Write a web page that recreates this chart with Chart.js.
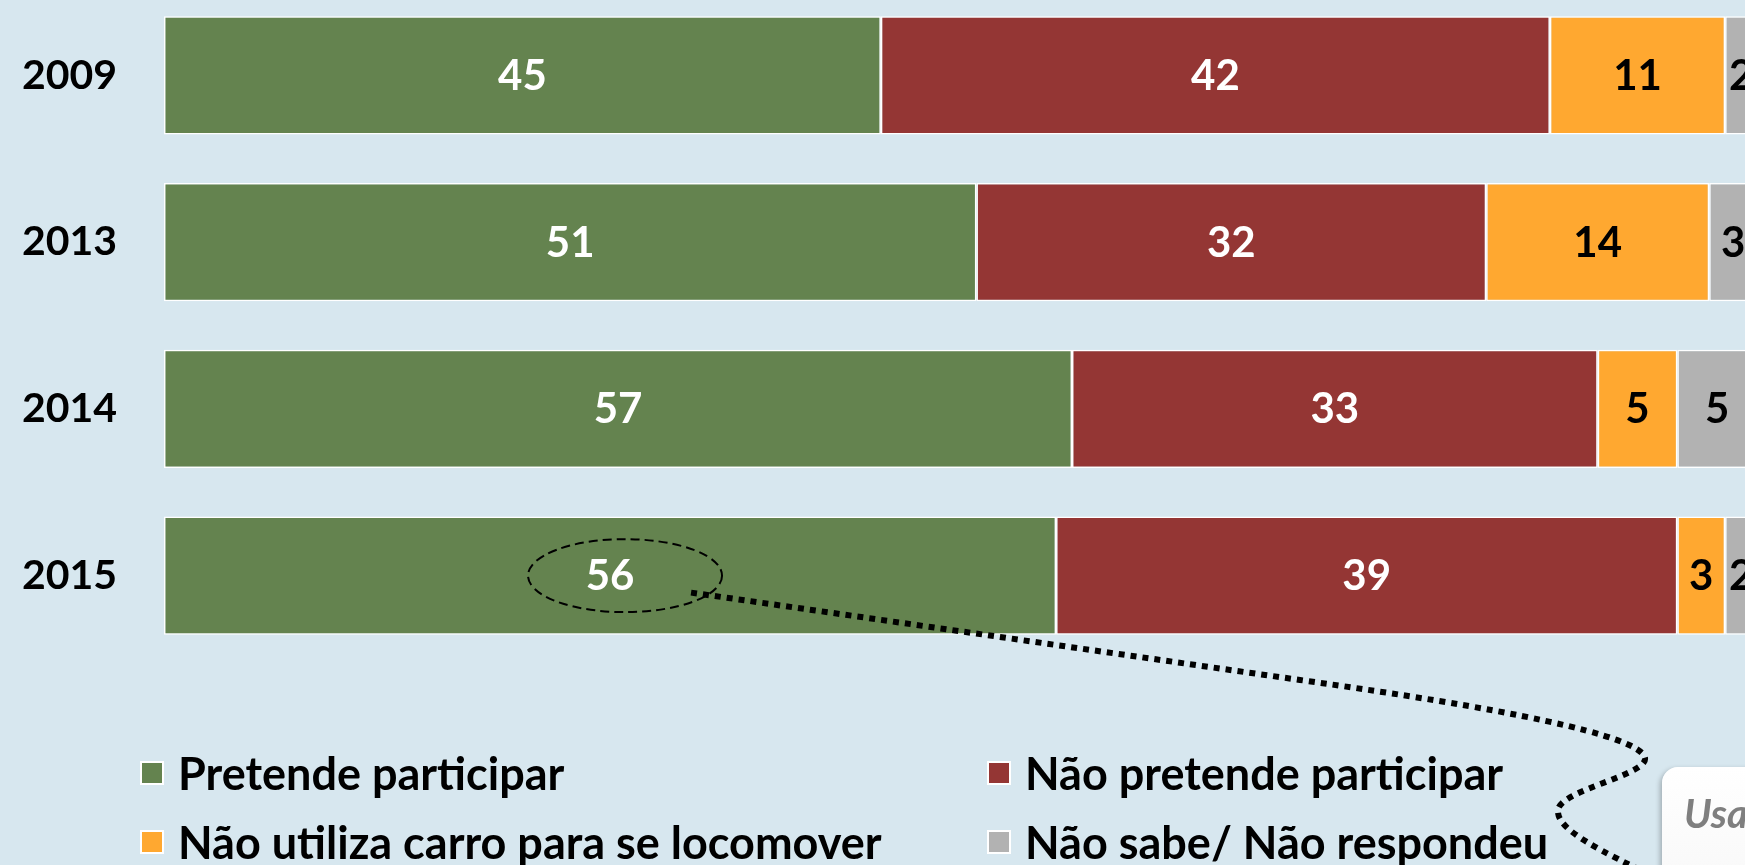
<!DOCTYPE html>
<html lang="pt">
<head>
<meta charset="utf-8">
<script src="https://cdn.jsdelivr.net/npm/chart.js@4/dist/chart.umd.min.js"></script>
<style>
    html, body { margin: 0; padding: 0; }
    body {
        width: 1745px; height: 865px; overflow: hidden; position: relative;
        background: #D7E7EF;
        font-family: Lato, 'Open Sans', sans-serif;
    }
    #wrap { position: absolute; left: 0; top: -8px; width: 1757px; height: 875px; }
    .leg { position: absolute; display: flex; align-items: center; height: 50px; font-weight: 700; font-size: 45px; color: #000; white-space: nowrap; }
    .leg i { display: inline-block; width: 20px; height: 20px; border: 2px solid #fff; margin-right: 14px; }
    #callout {
        position: absolute; left: 1662px; top: 767px; width: 300px; height: 200px;
        background: linear-gradient(#ffffff, #f4f4f4); border-radius: 16px;
        box-shadow: -2px 2px 5px rgba(0,0,0,0.25);
    }
    #callout span {
        position: absolute; left: 22px; top: 22px;
        font: italic 700 40px Lato, sans-serif; color: #7F7F7F;
    }
</style>
</head>
<body>
<div id="wrap"><canvas id="chart"></canvas></div>
<div id="legend"></div>
<div id="callout"><span>Usa</span></div>

<script>
const years = ['2009', '2013', '2014', '2015'];
const seriesNames = ['Pretende participar', 'Não pretende participar', 'Não utiliza carro para se locomover', 'Não sabe/ Não respondeu'];
const pretende = [45, 51, 57, 56];
const naoPretende = [42, 32, 33, 39];
const naoUtiliza = [11, 14, 5, 3];
const naoSabe = [2, 3, 5, 2];

const colors = ['#64834F', '#943634', '#FFA830', '#B2B2B2'];
const labelColors = ['#fff', '#fff', '#000', '#000'];
const series = [pretende, naoPretende, naoUtiliza, naoSabe];

// legend, two columns
const legendSpots = [[140, 748], [987, 748], [140, 817], [987, 817]];
const legendEl = document.getElementById('legend');
seriesNames.forEach((name, i) => {
    const d = document.createElement('div');
    d.className = 'leg';
    d.style.left = legendSpots[i][0] + 'px';
    d.style.top = legendSpots[i][1] + 'px';
    d.innerHTML = '<i style="background:' + colors[i] + '"></i>' + name;
    legendEl.appendChild(d);
});

// values inside each segment + the highlighted 2015 label with its connector
const segmentLabels = {
    id: 'segmentLabels',
    afterDatasetsDraw(chart) {
        const ctx = chart.ctx;
        ctx.save();
        ctx.font = '700 42px Lato, sans-serif';
        ctx.textAlign = 'center';
        ctx.textBaseline = 'middle';
        chart.data.datasets.forEach((ds, di) => {
            chart.getDatasetMeta(di).data.forEach((bar, i) => {
                ctx.fillStyle = labelColors[di];
                ctx.fillText(ds.data[i], (bar.x + bar.base) / 2, bar.y + 1);
            });
        });

        const hl = chart.getDatasetMeta(0).data[3];
        const cx = (hl.x + hl.base) / 2 + 15;
        const cy = hl.y;
        ctx.strokeStyle = '#000';
        ctx.lineWidth = 2;
        ctx.setLineDash([9, 5]);
        ctx.beginPath();
        ctx.ellipse(cx, cy, 97, 36.5, 0, 0, Math.PI * 2);
        ctx.stroke();

        ctx.lineWidth = 6;
        ctx.setLineDash([6, 6]);
        ctx.beginPath();
        ctx.moveTo(cx + 66, cy + 17);
        ctx.lineTo(1300, 688);
        ctx.bezierCurveTo(1500, 716, 1640, 743, 1645, 766);
        ctx.bezierCurveTo(1648, 783, 1560, 798, 1558, 818);
        ctx.bezierCurveTo(1556, 838, 1600, 858, 1660, 888);
        ctx.stroke();
        ctx.restore();
    }
};

new Chart(document.getElementById('chart'), {
    type: 'bar',
    data: {
        labels: years,
        datasets: series.map((vals, i) => ({
            label: seriesNames[i],
            data: vals,
            backgroundColor: colors[i],
            borderColor: '#fff',
            borderWidth: 1.5,
            borderSkipped: false,
            barPercentage: 0.71,
            categoryPercentage: 1
        }))
    },
    options: {
        indexAxis: 'y',
        responsive: true,
        maintainAspectRatio: false,
        animation: false,
        layout: { padding: { top: 0, right: 0, bottom: 208, left: 0 } },
        plugins: { legend: { display: false }, tooltip: { enabled: false } },
        scales: {
            x: { stacked: true, min: 0, max: 100, display: false },
            y: {
                stacked: true,
                grid: { display: false, drawTicks: false },
                border: { display: false },
                ticks: { color: '#000', padding: 47, font: { family: 'Lato', weight: 'bold', size: 41 } },
                afterFit: (scale) => {
                    scale.width = 164;
                    scale.paddingTop = 0;
                    scale.paddingBottom = 0;
                }
            }
        }
    },
    plugins: [segmentLabels]
});
</script>
</body>
</html>
